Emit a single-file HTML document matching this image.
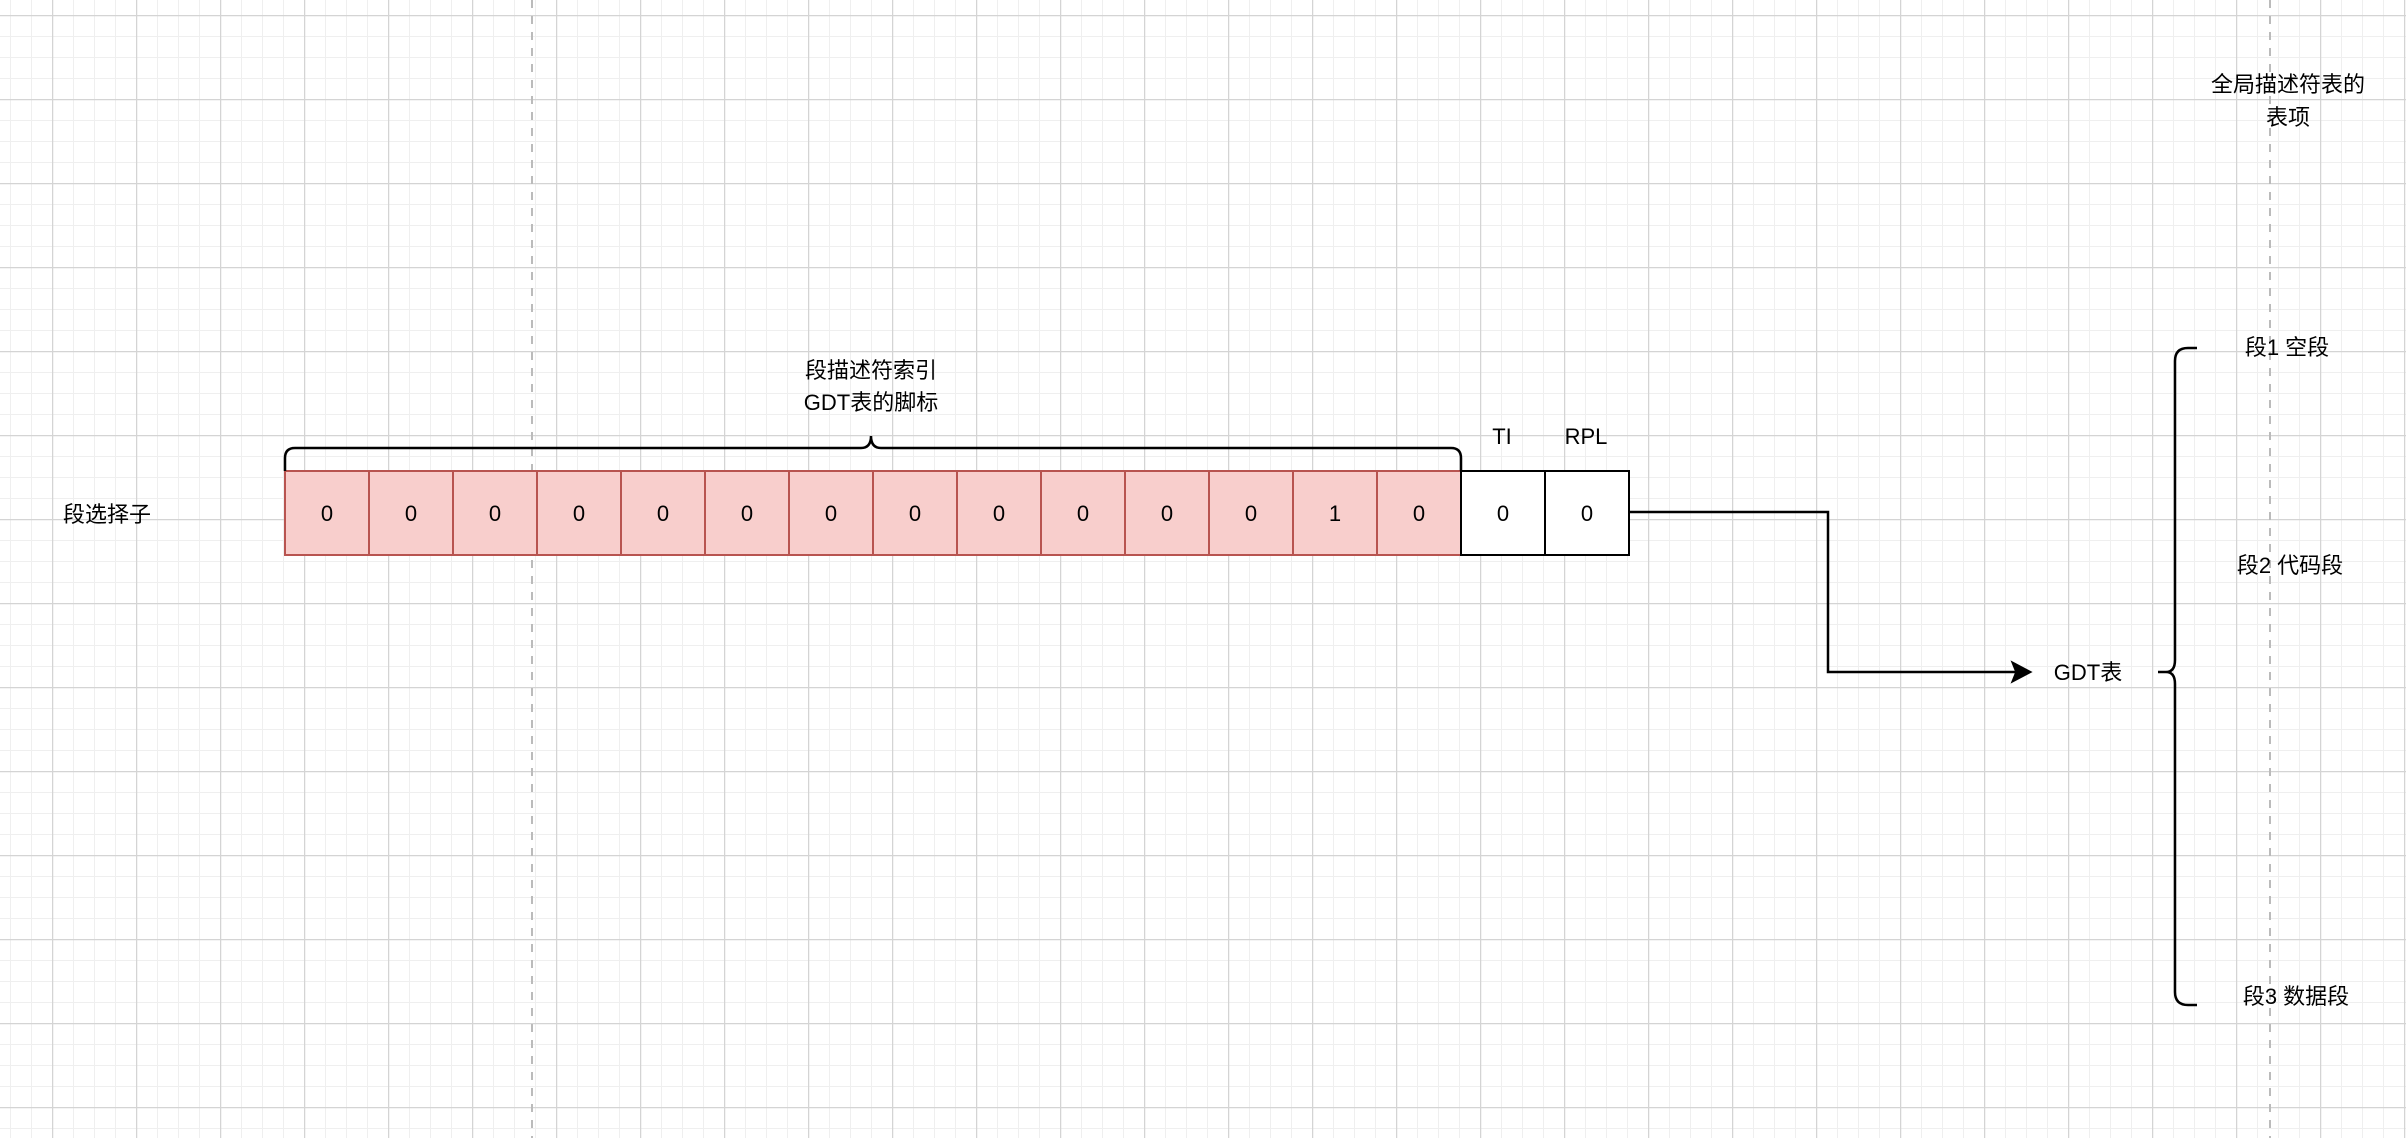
<!DOCTYPE html>
<html><head><meta charset="utf-8"><style>
html,body{margin:0;padding:0;background:#fff;overflow:hidden;}
svg{display:block;}
text{font-family:"Liberation Sans","Noto Sans CJK SC",sans-serif;font-size:22px;fill:#000;}
</style></head><body>
<svg width="2406" height="1138" viewBox="0 0 2406 1138" xmlns="http://www.w3.org/2000/svg">
<defs>
<pattern id="minor" x="10" y="-6" width="21" height="21" patternUnits="userSpaceOnUse">
<path d="M0 0H21M0 0V21" stroke="#efefef" stroke-width="2" fill="none"/>
</pattern>
<pattern id="major" x="52" y="15" width="84" height="84" patternUnits="userSpaceOnUse">
<path d="M0 0.5H84M0.5 0V84" stroke="#d4d4d4" stroke-width="1.5" fill="none"/>
</pattern>
</defs>
<rect width="2406" height="1138" fill="url(#minor)"/>
<rect width="2406" height="1138" fill="url(#major)"/>
<line x1="532" y1="0" x2="532" y2="1138" stroke="#bbb" stroke-width="2" stroke-dasharray="8,8"/>
<line x1="2270" y1="0" x2="2270" y2="1138" stroke="#bbb" stroke-width="2" stroke-dasharray="8,8"/>

<g stroke="#b85450" stroke-width="2" fill="#f8cecc">
<rect x="285" y="471" width="84" height="84"/><rect x="369" y="471" width="84" height="84"/>
<rect x="453" y="471" width="84" height="84"/><rect x="537" y="471" width="84" height="84"/>
<rect x="621" y="471" width="84" height="84"/><rect x="705" y="471" width="84" height="84"/>
<rect x="789" y="471" width="84" height="84"/><rect x="873" y="471" width="84" height="84"/>
<rect x="957" y="471" width="84" height="84"/><rect x="1041" y="471" width="84" height="84"/>
<rect x="1125" y="471" width="84" height="84"/><rect x="1209" y="471" width="84" height="84"/>
<rect x="1293" y="471" width="84" height="84"/><rect x="1377" y="471" width="84" height="84"/>
</g>
<g stroke="#000" stroke-width="2" fill="#fff">
<rect x="1461" y="471" width="84" height="84"/><rect x="1545" y="471" width="84" height="84"/>
</g>
<g text-anchor="middle">
<text x="327" y="521">0</text><text x="411" y="521">0</text><text x="495" y="521">0</text><text x="579" y="521">0</text>
<text x="663" y="521">0</text><text x="747" y="521">0</text><text x="831" y="521">0</text><text x="915" y="521">0</text>
<text x="999" y="521">0</text><text x="1083" y="521">0</text><text x="1167" y="521">0</text><text x="1251" y="521">0</text>
<text x="1335" y="521">1</text><text x="1419" y="521">0</text><text x="1503" y="521">0</text><text x="1587" y="521">0</text>
<text x="871" y="378">段描述符索引</text>
<text x="871" y="410">GDT表的脚标</text>
<text x="1502" y="444">TI</text>
<text x="1586" y="444">RPL</text>
<text x="107" y="522">段选择子</text>
<text x="2088" y="680">GDT表</text>
<text x="2288" y="92">全局描述符表的</text>
<text x="2288" y="125">表项</text>
<text x="2287" y="355">段1 空段</text>
<text x="2290" y="573">段2 代码段</text>
<text x="2296" y="1004">段3 数据段</text>
</g>
<g fill="none" stroke="#000" stroke-width="2.5">
<path d="M285 471V458Q285 448 295 448H861Q871 448 871 436Q871 448 881 448H1451Q1461 448 1461 458V471"/>
<path d="M1629 512H1828V672H2016"/>
<path d="M2197 348H2188Q2175 348 2175 361V660Q2175 672 2166 672H2158M2166 672Q2175 672 2175 684V992Q2175 1005 2188 1005H2197"/>
</g>
<path d="M2031 672L2012 662L2016 672L2012 682Z" fill="#000" stroke="#000" stroke-width="1.5"/>
</svg>
</body></html>
